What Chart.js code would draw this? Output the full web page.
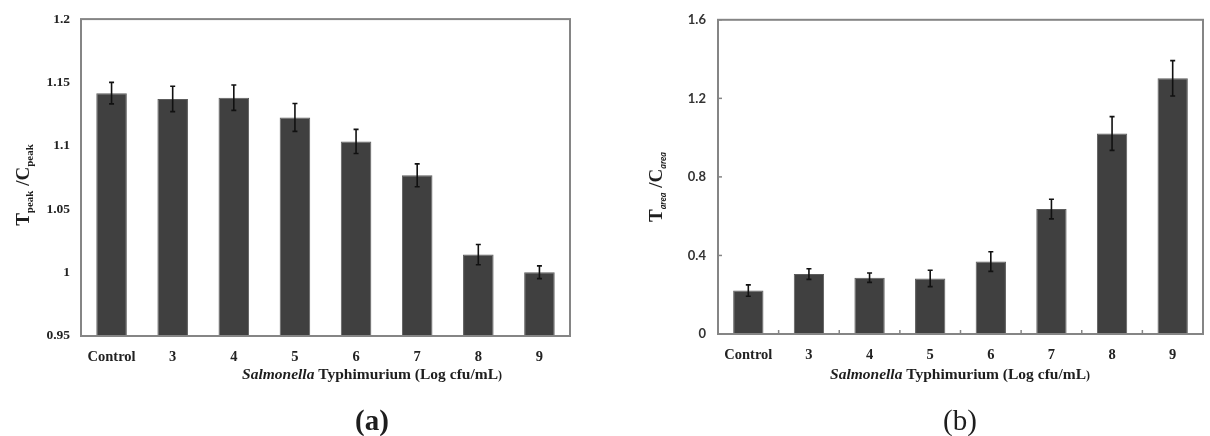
<!DOCTYPE html>
<html><head><meta charset="utf-8">
<script src="https://cdn.jsdelivr.net/npm/chart.js@4"></script>
<style>
html,body{margin:0;padding:0;background:#fff;}
#wrap{position:relative;width:1210px;height:436px;overflow:hidden;}
canvas{position:absolute;top:0;}
</style></head><body>
<div id="wrap">
<canvas id="ca" width="605" height="436" style="left:0"></canvas>
<canvas id="cb" width="605" height="436" style="left:605px"></canvas>
</div>
<script>
const categories = ['Control','3','4','5','6','7','8','9'];
const peakRatio = [1.1416, 1.137, 1.138, 1.1224, 1.1035, 1.0768, 1.0142, 1.0003];
const peakError = [0.0085, 0.010, 0.010, 0.011, 0.0095, 0.009, 0.008, 0.005];
const areaRatio = [0.221, 0.305, 0.287, 0.283, 0.369, 0.636, 1.021, 1.302];
const areaError = [0.029, 0.027, 0.024, 0.042, 0.050, 0.050, 0.086, 0.090];
const peakTicks = ['0.95','1','1.05','1.1','1.15','1.2'];
const areaTicks = ['0','0.4','0.8','1.2','1.6'];
const xTitleItalic = 'Salmonella';
const xTitleRest = ' Typhimurium (Log cfu/mL';
const SERIF = '"Liberation Serif", "Times New Roman", serif';
const SANS = 'Lato, "Liberation Sans", sans-serif';

function drawSegments(ctx, segs, cx, cy, rotate) {
  ctx.save();
  ctx.translate(cx, cy);
  if (rotate) ctx.rotate(-Math.PI / 2);
  let total = 0;
  segs.forEach(s => { ctx.font = s.font; s.w = ctx.measureText(s.text).width; total += s.w; });
  let x = -total / 2;
  ctx.textBaseline = 'alphabetic';
  ctx.textAlign = 'left';
  ctx.fillStyle = '#1e1e1e';
  segs.forEach(s => { ctx.font = s.font; ctx.fillText(s.text, x, s.dy || 0); x += s.w; });
  ctx.restore();
}

const deco = {
  id: 'deco',
  afterDatasetsDraw(chart, args, opts) {
    const ctx = chart.ctx;
    const a = chart.chartArea;
    const ys = chart.scales.y, xs = chart.scales.x;
    const vals = chart.data.datasets[0].data;
    const errs = opts.errors;
    ctx.save();
    ctx.strokeStyle = '#858585';
    ctx.lineWidth = 2;
    ctx.strokeRect(a.left, a.top, a.right - a.left, a.bottom - a.top);
    if (opts.innerTicks) {
      ctx.lineWidth = 1.5;
      ys.ticks.forEach(t => {
        const py = ys.getPixelForValue(t.value);
        ctx.beginPath(); ctx.moveTo(a.left, py); ctx.lineTo(a.left + 4, py); ctx.stroke();
      });
      const n = categories.length;
      for (let i = 1; i < n; i++) {
        const px = (xs.getPixelForValue(i - 1) + xs.getPixelForValue(i)) / 2;
        ctx.beginPath(); ctx.moveTo(px, a.bottom); ctx.lineTo(px, a.bottom - 4); ctx.stroke();
      }
    }
    ctx.strokeStyle = '#111';
    ctx.lineWidth = 1.6;
    vals.forEach((v, i) => {
      const px = xs.getPixelForValue(i);
      const top = ys.getPixelForValue(v + errs[i]);
      const bot = ys.getPixelForValue(v - errs[i]);
      ctx.beginPath();
      ctx.moveTo(px, top); ctx.lineTo(px, bot);
      ctx.moveTo(px - 2.5, top); ctx.lineTo(px + 2.5, top);
      ctx.moveTo(px - 2.5, bot); ctx.lineTo(px + 2.5, bot);
      ctx.stroke();
    });
    ctx.restore();
    drawSegments(ctx, opts.yTitle, opts.yTitleX, opts.yTitleY, true);
    drawSegments(ctx, [
      {text: xTitleItalic, font: 'italic bold 15.5px ' + SERIF},
      {text: xTitleRest, font: 'bold 15.5px ' + SERIF},
      {text: ')', font: 'bold 12px ' + SERIF}
    ], opts.xTitleX, 379, false);
    drawSegments(ctx, [{text: opts.caption, font: opts.captionFont}], opts.xTitleX, 430, false);
  }
};

function makeChart(id, values, errors, tickLabels, yMin, yMax, step, cfg) {
  return new Chart(document.getElementById(id), {
    type: 'bar',
    data: {
      labels: categories,
      datasets: [{
        data: values,
        backgroundColor: '#404040',
        borderColor: '#5c5c5c',
        borderWidth: 1,
        barPercentage: 0.5,
        categoryPercentage: 1.0
      }]
    },
    options: {
      responsive: false,
      animation: false,
      devicePixelRatio: 1,
      layout: { padding: { left: 0, top: cfg.top, right: cfg.right, bottom: 0 } },
      plugins: {
        legend: { display: false },
        tooltip: { enabled: false },
        deco: {
          errors: errors,
          innerTicks: cfg.innerTicks,
          yTitle: cfg.yTitle, yTitleX: cfg.yTitleX, yTitleY: cfg.yTitleY,
          xTitleX: cfg.xTitleX, caption: cfg.caption, captionFont: cfg.captionFont
        }
      },
      scales: {
        x: {
          grid: { display: false, drawTicks: false },
          border: { display: false },
          ticks: { padding: 13, color: '#222', font: { family: SERIF, size: 14.5, weight: 'bold' }, maxRotation: 0 },
          afterFit(s) { s.height = cfg.xHeight; }
        },
        y: {
          min: yMin, max: yMax,
          grid: { display: false, drawTicks: false },
          border: { display: false },
          ticks: {
            stepSize: step, padding: cfg.yPad, color: cfg.yTickColor,
            font: cfg.yTickFont,
            callback: (v, i) => tickLabels[i]
          },
          afterFit(s) { s.width = cfg.yWidth; }
        }
      }
    },
    plugins: [deco]
  });
}

makeChart('ca', peakRatio, peakError, peakTicks, 0.95, 1.2, 0.05, {
  top: 18, right: 35, xHeight: 100, yWidth: 81, yPad: 11, innerTicks: false,
  yTickColor: '#222', yTickFont: { family: SERIF, size: 13.5, weight: 'bold' },
  yTitle: [
    {text: 'T', font: 'bold 19px ' + SERIF},
    {text: 'peak', font: 'bold 11px ' + SERIF, dy: 4},
    {text: ' /C', font: 'bold 19px ' + SERIF},
    {text: 'peak', font: 'bold 11px ' + SERIF, dy: 4}
  ],
  yTitleX: 29, yTitleY: 185,
  xTitleX: 372, caption: '(a)', captionFont: 'bold 29px ' + SERIF
});

makeChart('cb', areaRatio, areaError, areaTicks, 0, 1.6, 0.4, {
  top: 16, right: 7, xHeight: 102, yWidth: 113, yPad: 12, innerTicks: true,
  yTickColor: '#333', yTickFont: { family: SANS, size: 13, weight: 'bold' },
  yTitle: [
    {text: 'T', font: 'bold 19px ' + SERIF},
    {text: 'area', font: 'italic bold 9px ' + SANS, dy: 4},
    {text: ' /C', font: 'bold 19px ' + SERIF},
    {text: 'area', font: 'italic bold 9px ' + SANS, dy: 4}
  ],
  yTitleX: 57, yTitleY: 187,
  xTitleX: 355, caption: '(b)', captionFont: '29px ' + SERIF
});
</script>
</body></html>
